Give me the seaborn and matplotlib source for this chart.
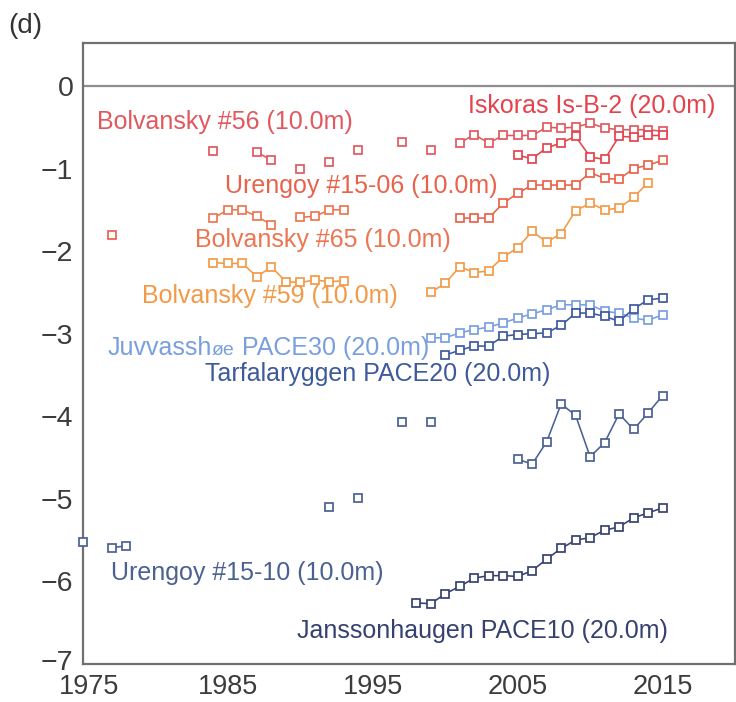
import matplotlib
matplotlib.use("Agg")
import matplotlib.pyplot as plt
import numpy as np
import pandas as pd
import seaborn as sns
from matplotlib.ticker import FixedLocator
from matplotlib.transforms import ScaledTranslation

# ---------------- data ----------------
bolv56_years = [1984, 1987, 1988, 1990, 1992, 1994, 1997, 1999,
                2001, 2002, 2003, 2004, 2005, 2006, 2007, 2008, 2009, 2010, 2011, 2012, 2013, 2014, 2015]
bolv56_vals = [-0.79, -0.80, -0.90, -1.00, -0.92, -0.77, -0.68, -0.78,
               -0.69, -0.59, -0.69, -0.60, -0.60, -0.60, -0.50, -0.51, -0.50, -0.45, -0.51, -0.53, -0.53, -0.53, -0.55]

iskoras_years = [2005, 2006, 2007, 2008, 2009, 2010, 2011, 2012, 2013, 2014, 2015]
iskoras_vals = [-0.84, -0.88, -0.75, -0.69, -0.61, -0.86, -0.89, -0.61, -0.62, -0.60, -0.60]

ureng1506_years = [1977, 2001, 2002, 2003, 2004, 2005, 2006, 2007, 2008, 2009, 2010, 2011, 2012, 2013, 2014, 2015]
ureng1506_vals = [-1.80, -1.60, -1.60, -1.60, -1.42, -1.30, -1.20, -1.20, -1.20, -1.20,
                  -1.05, -1.12, -1.13, -1.00, -0.96, -0.90]

bolv65_years = [1984, 1985, 1986, 1987, 1988, 1990, 1991, 1992, 1993]
bolv65_vals = [-1.60, -1.50, -1.50, -1.58, -1.68, -1.59, -1.58, -1.50, -1.50]

bolv59_years = [1984, 1985, 1986, 1987, 1988, 1989, 1990, 1991, 1992, 1993,
                1999, 2000, 2001, 2002, 2003, 2004, 2005, 2006, 2007, 2008, 2009, 2010, 2011, 2012, 2013, 2014]
bolv59_vals = [-2.14, -2.15, -2.15, -2.31, -2.19, -2.37, -2.38, -2.35, -2.37, -2.36,
               -2.50, -2.39, -2.19, -2.26, -2.24, -2.07, -1.96, -1.76, -1.89, -1.79, -1.51, -1.42, -1.50, -1.48, -1.35, -1.17]

juvv_years = [1999, 2000, 2001, 2002, 2003, 2004, 2005, 2006, 2007, 2008, 2009, 2010, 2011, 2012, 2013, 2014, 2015]
juvv_vals = [-3.05, -3.05, -2.99, -2.95, -2.92, -2.87, -2.81, -2.76, -2.71, -2.65, -2.65, -2.65,
             -2.73, -2.75, -2.81, -2.84, -2.77]

tarf_years = [2000, 2001, 2002, 2003, 2004, 2005, 2006, 2007, 2008, 2009, 2010, 2011, 2012, 2013, 2014, 2015]
tarf_vals = [-3.26, -3.20, -3.15, -3.15, -3.03, -3.01, -3.00, -2.99, -2.90, -2.75, -2.75, -2.79,
             -2.85, -2.70, -2.59, -2.57]

ureng1510_years = [1975, 1977, 1978, 1992, 1994, 1997, 1999,
                   2005, 2006, 2007, 2008, 2009, 2010, 2011, 2012, 2013, 2014, 2015]
ureng1510_vals = [-5.52, -5.59, -5.57, -5.10, -4.99, -4.07, -4.07,
                  -4.52, -4.58, -4.31, -3.85, -3.99, -4.49, -4.32, -3.97, -4.16, -3.96, -3.75]

jans_years = [1998, 1999, 2000, 2001, 2002, 2003, 2004, 2005, 2006, 2007, 2008, 2009, 2010, 2011, 2012, 2013, 2014, 2015]
jans_vals = [-6.26, -6.27, -6.15, -6.06, -5.96, -5.93, -5.93, -5.94, -5.87, -5.73, -5.60, -5.50,
             -5.47, -5.38, -5.34, -5.23, -5.17, -5.11]

x_ticks = [1975, 1985, 1995, 2005, 2015]
x_minor = [1980, 1990, 2000, 2010]
y_ticks = [0, -1, -2, -3, -4, -5, -6, -7]
y_minor = [-0.5, -1.5, -2.5, -3.5, -4.5, -5.5, -6.5]

series = [
    ("Bolvansky #56", bolv56_years, bolv56_vals, "#e2585f"),
    ("Iskoras", iskoras_years, iskoras_vals, "#e4434d"),
    ("Urengoy #15-06", ureng1506_years, ureng1506_vals, "#e8634c"),
    ("Bolvansky #65", bolv65_years, bolv65_vals, "#ec7652"),
    ("Bolvansky #59", bolv59_years, bolv59_vals, "#f29a48"),
    ("Juvvasshoe", juvv_years, juvv_vals, "#7a9fdf"),
    ("Tarfalaryggen", tarf_years, tarf_vals, "#3d5a9c"),
    ("Urengoy #15-10", ureng1510_years, ureng1510_vals, "#4a6192"),
    ("Janssonhaugen", jans_years, jans_vals, "#36416f"),
]

# ---------------- style ----------------
sns.set_style("white")
plt.rcParams["font.family"] = ["Liberation Sans", "DejaVu Sans"]
plt.rcParams["axes.unicode_minus"] = True

fig = plt.figure(figsize=(7.36, 7.02), dpi=100)
ax = fig.add_axes([83 / 736, 38 / 702, 652 / 736, 621 / 702])

ax.axhline(0, color="#8e8e8e", lw=1.6, zorder=1)

for name, yrs, vals, col in series:
    df = pd.DataFrame({"year": yrs, "val": vals})
    df["seg"] = (df["year"].diff().fillna(1) > 1).cumsum()
    sns.lineplot(data=df, x="year", y="val", units="seg", estimator=None, ax=ax,
                 color=col, linewidth=1.15, marker="s", markersize=5.4,
                 markerfacecolor="white", markeredgecolor=col, markeredgewidth=1.25,
                 clip_on=False, legend=False, sort=True, zorder=3)

ax.set_xlim(1975, 2020)
ax.set_ylim(-7, 0.52)
ax.xaxis.set_major_locator(FixedLocator(x_ticks))
ax.xaxis.set_minor_locator(FixedLocator(x_minor))
ax.yaxis.set_major_locator(FixedLocator(y_ticks))
ax.yaxis.set_minor_locator(FixedLocator(y_minor))
ax.set_xlabel("")
ax.set_ylabel("")

spine_col = "#707070"
for s in ax.spines.values():
    s.set_color(spine_col)
    s.set_linewidth(1.6)
    s.set_visible(True)
ax.tick_params(which="both", direction="in", length=6, width=1.3, color=spine_col,
               labelcolor="#3c3c3c", top=False, right=False)
ax.tick_params(axis="x", which="both", pad=7, labelsize=19.5)
ax.tick_params(axis="y", which="both", pad=7, labelsize=20.5)

# small nudges as in the reference: "-7" sits a little high, "1975" a little right
ytk = ax.yaxis.get_major_ticks()
ytk[-1].label1.set_transform(ytk[-1].label1.get_transform()
                             + ScaledTranslation(0, 4 / 100, fig.dpi_scale_trans))
xtk = ax.xaxis.get_major_ticks()
xtk[0].label1.set_transform(xtk[0].label1.get_transform()
                            + ScaledTranslation(6 / 100, 0, fig.dpi_scale_trans))

# ---------------- labels ----------------
fs = 18
labels = [
    (1975.97, -0.52, "Bolvansky #56 (10.0m)", "#e2585f"),
    (2001.55, -0.33, "Iskoras Is-B-2 (20.0m)", "#e4434d"),
    (1984.8, -1.30, "Urengoy #15-06 (10.0m)", "#e8634c"),
    (1982.7, -1.95, "Bolvansky #65 (10.0m)", "#ec7652"),
    (1979.1, -2.63, "Bolvansky #59 (10.0m)", "#f29a48"),
    (1983.4, -3.57, "Tarfalaryggen PACE20 (20.0m)", "#3d5a9c"),
    (1976.9, -5.98, "Urengoy #15-10 (10.0m)", "#4a6192"),
    (1989.8, -6.68, "Janssonhaugen PACE10 (20.0m)", "#36416f"),
]
for x, y, t, c in labels:
    ax.text(x, y, t, color=c, fontsize=fs, ha="left", va="baseline", zorder=4)

# Juvvasshøe label, with the "øe" set in a smaller size on the same baseline
jcol = "#7a9fdf"
jx, jy = 1976.7, -3.26
t1 = ax.text(jx, jy, "Juvvassh", color=jcol, fontsize=fs, ha="left", va="baseline", zorder=4)
fig.canvas.draw()
w1 = t1.get_window_extent().width
t2 = ax.annotate("øe", xy=(jx, jy), xycoords="data", xytext=(w1, 0), textcoords="offset pixels",
                 color=jcol, fontsize=14, ha="left", va="baseline", zorder=4)
fig.canvas.draw()
w2 = t2.get_window_extent().width
ax.annotate(" PACE30 (20.0m)", xy=(jx, jy), xycoords="data", xytext=(w1 + w2, 0),
            textcoords="offset pixels", color=jcol, fontsize=fs, ha="left", va="baseline", zorder=4)

fig.text(8 / 736, 1 - 33 / 702, "(d)", fontsize=20, color="#333333", ha="left", va="baseline")

fig.savefig("out.png", dpi=100)
